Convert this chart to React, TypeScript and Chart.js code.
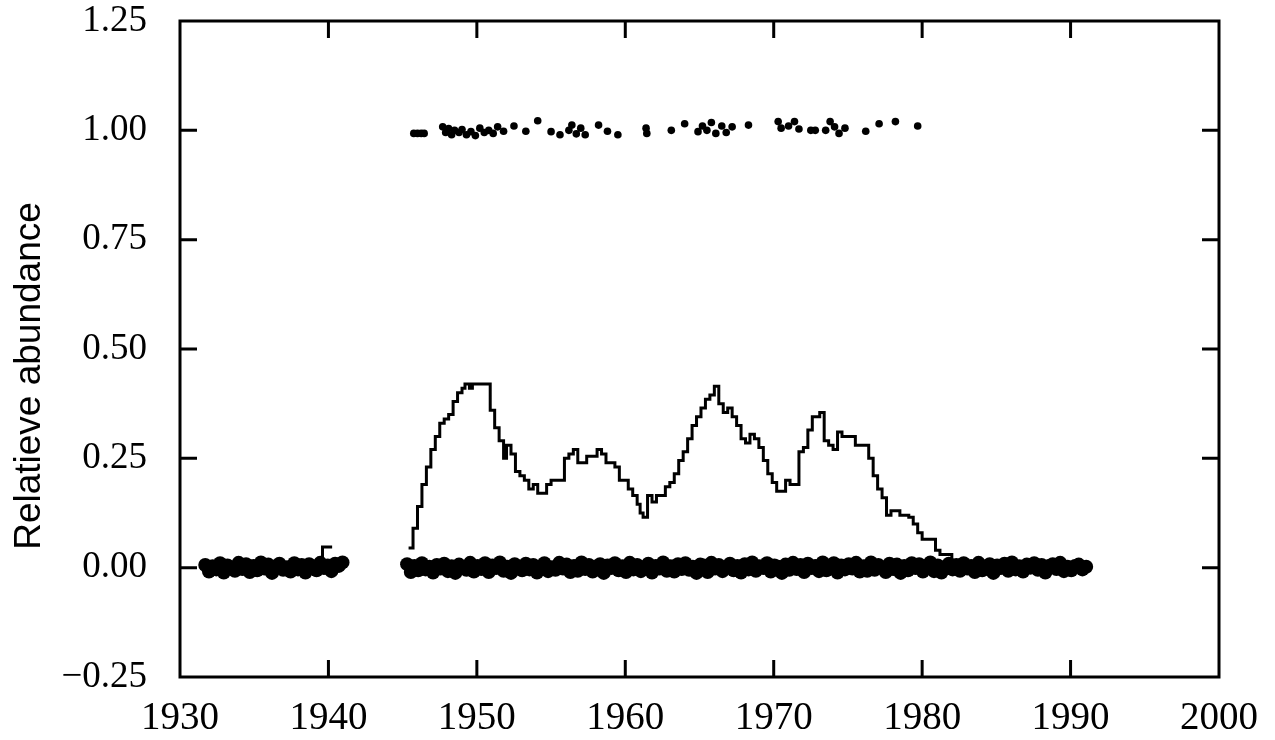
import React, { useEffect, useRef } from "react";
import { Chart, registerables } from "chart.js";

Chart.register(...registerables);

// ---------- data ----------
const xMin = 1930;
const xMax = 2000;
const xStep = 10;
const yMin = -0.25;
const yMax = 1.25;
const yStep = 0.25;
const yTitle = "Relatieve abundance";

// stepped abundance curve (null = gap)
const mainYears = [
  1939.55, 1939.6, 1940.25, 1940.3,
  1945.4, 1945.7, 1946.0, 1946.3, 1946.6, 1946.9, 1947.2, 1947.5, 1947.8, 1948.1,
  1948.4, 1948.7, 1949.0, 1949.2, 1949.5, 1949.7, 1950.0, 1950.3, 1950.6, 1950.9,
  1951.2, 1951.5, 1951.8, 1952.0, 1952.3, 1952.6, 1952.9, 1953.2, 1953.5, 1953.8,
  1954.1, 1954.4, 1954.7, 1955.0, 1955.3, 1955.6, 1955.9, 1956.2, 1956.5, 1956.8,
  1957.1, 1957.4, 1957.8, 1958.1, 1958.4, 1958.7, 1959.0, 1959.3, 1959.6, 1959.9,
  1960.2, 1960.5, 1960.8, 1961.0, 1961.2, 1961.5, 1961.8, 1962.1, 1962.4, 1962.7,
  1963.0, 1963.3, 1963.6, 1963.9, 1964.2, 1964.5, 1964.8, 1965.1, 1965.4, 1965.7,
  1966.0, 1966.3, 1966.6, 1966.9, 1967.2, 1967.5, 1967.8, 1968.1, 1968.4, 1968.7,
  1969.0, 1969.3, 1969.6, 1969.9, 1970.2, 1970.5, 1970.8, 1971.1, 1971.4, 1971.7,
  1972.0, 1972.3, 1972.6, 1972.9, 1973.1, 1973.4, 1973.7, 1974.0, 1974.3, 1974.6,
  1974.9, 1975.2, 1975.5, 1975.8, 1976.1, 1976.4, 1976.7, 1977.0, 1977.3, 1977.6,
  1977.9, 1978.2, 1978.5, 1978.8, 1979.1, 1979.4, 1979.7, 1980.0, 1980.3, 1980.6,
  1980.9, 1981.2, 1981.5, 1981.8, 1982.0,
];
const mainValues = [
  0.02, 0.047, 0.047, null,
  0.045, 0.09, 0.14, 0.19, 0.23, 0.27, 0.30, 0.33, 0.34, 0.35,
  0.38, 0.40, 0.41, 0.42, 0.41, 0.42, 0.42, 0.42, 0.42, 0.36,
  0.32, 0.29, 0.25, 0.28, 0.26, 0.22, 0.21, 0.20, 0.18, 0.19,
  0.17, 0.17, 0.19, 0.20, 0.20, 0.20, 0.25, 0.26, 0.27, 0.24,
  0.24, 0.255, 0.255, 0.27, 0.26, 0.24, 0.24, 0.23, 0.20, 0.20,
  0.18, 0.165, 0.145, 0.125, 0.115, 0.165, 0.15, 0.165, 0.165, 0.185,
  0.195, 0.215, 0.245, 0.265, 0.295, 0.325, 0.345, 0.365, 0.385, 0.395,
  0.415, 0.375, 0.355, 0.365, 0.345, 0.325, 0.295, 0.285, 0.305, 0.295,
  0.275, 0.245, 0.215, 0.195, 0.175, 0.175, 0.20, 0.19, 0.19, 0.265,
  0.275, 0.315, 0.345, 0.345, 0.355, 0.29, 0.28, 0.27, 0.31, 0.30,
  0.30, 0.30, 0.28, 0.28, 0.28, 0.25, 0.21, 0.18, 0.16, 0.12,
  0.13, 0.13, 0.12, 0.12, 0.115, 0.10, 0.08, 0.065, 0.065, 0.065,
  0.04, 0.03, 0.03, 0.03, 0.01,
];

// dots near 1.00
const topYears = [
  1945.75, 1946.0, 1946.25, 1946.45,
  1947.7, 1947.9, 1948.1, 1948.3, 1948.5, 1948.8, 1949.0, 1949.3, 1949.6, 1949.9,
  1950.2, 1950.5, 1950.8, 1951.1, 1951.4, 1951.8, 1952.5, 1953.3, 1954.1, 1955.0,
  1955.6, 1956.2, 1956.4, 1956.7, 1957.0, 1957.3, 1958.2, 1958.8, 1959.5, 1961.4,
  1961.45, 1963.1, 1964.0, 1964.9, 1965.2, 1965.5, 1965.8, 1966.1, 1966.5, 1966.8,
  1967.2, 1968.3, 1970.3, 1970.5, 1971.0, 1971.4, 1971.7, 1972.5, 1972.8, 1973.5,
  1973.8, 1974.1, 1974.4, 1974.8, 1976.2, 1977.1, 1978.2, 1979.7,
];
const topValues = [
  0.993, 0.993, 0.993, 0.993,
  1.008, 0.995, 1.004, 0.99, 1.0, 0.995, 1.002, 0.99, 0.997, 0.988,
  1.005, 0.995, 1.0, 0.993, 1.008, 0.998, 1.01, 0.998, 1.022, 0.997,
  0.99, 1.0, 1.012, 0.992, 1.005, 0.99, 1.012, 0.998, 0.99, 1.005,
  0.993, 1.0, 1.015, 0.997, 1.01, 1.0, 1.018, 0.993, 1.01, 0.995,
  1.008, 1.012, 1.02, 1.005, 1.01, 1.02, 1.003, 1.0, 1.0, 1.0,
  1.02, 1.008, 0.993, 1.005, 0.998, 1.015, 1.02, 1.01,
];

// dense dots near 0.00, sampled every quarter year
const bandStep = 0.25;
const band1Start = 1931.7;
const band1Values = [
  0.006, -0.009, 0.003, -0.004, 0.010, -0.011, 0.005, 0.000, -0.007, 0.011,
  -0.003, 0.008, -0.010, 0.004, -0.006, 0.012, -0.002, 0.007, -0.012, 0.003,
  0.009, -0.005, 0.001, -0.009, 0.010, -0.004, 0.006, -0.011, 0.008, 0.002,
  -0.006, 0.011, -0.001, 0.005, -0.008, 0.009, 0.004, 0.012,
];
const band2Start = 1945.3;
const band2Values = [
  0.008, -0.010, 0.004, -0.006, 0.010, -0.004, 0.002, -0.011, 0.006, -0.002,
  0.009, -0.008, 0.003, -0.012, 0.007, 0.001, -0.005, 0.011, -0.009, 0.004,
  -0.003, 0.010, -0.010, 0.005, -0.001, 0.012, -0.007, 0.002, -0.012, 0.008,
  0.000, -0.006, 0.009, -0.004, 0.006, -0.011, 0.003, 0.010, -0.008, 0.001,
  -0.005, 0.011, -0.002, 0.007, -0.010, 0.004, -0.007, 0.012, -0.003, 0.006,
  -0.009, 0.002, 0.008, -0.012, 0.005, -0.001, 0.010, -0.006, 0.003, -0.010,
  0.011, -0.004, 0.006, -0.008, 0.001, 0.009, -0.011, 0.004, -0.002, 0.012,
  -0.007, 0.003, -0.009, 0.008, -0.003, 0.010, -0.005, 0.002, -0.012, 0.007,
  0.005, -0.010, 0.011, -0.002, 0.006, -0.008, 0.000, 0.009, -0.006, 0.004,
  -0.011, 0.008, -0.004, 0.012, -0.007, 0.003, -0.001, 0.010, -0.009, 0.005,
  0.002, -0.012, 0.007, -0.005, 0.011, -0.003, 0.006, -0.010, 0.009, -0.001,
  0.004, -0.008, 0.012, -0.006, 0.001, 0.010, -0.011, 0.005, -0.004, 0.008,
  -0.002, 0.011, -0.009, 0.003, -0.007, 0.012, -0.005, 0.006, 0.000, -0.010,
  0.009, -0.003, 0.007, -0.012, 0.004, -0.006, 0.010, -0.001, 0.008, -0.009,
  0.003, 0.012, -0.008, 0.005, -0.011, 0.001, 0.009, -0.004, 0.006, -0.007,
  0.010, -0.002, 0.004, -0.010, 0.011, -0.006, 0.002, 0.008, -0.012, 0.005,
  -0.001, 0.009, -0.007, 0.012, -0.004, 0.003, -0.009, 0.007, 0.000, 0.010,
  -0.005, 0.006, -0.011, 0.004, 0.008, -0.003, 0.011, -0.008, 0.002, -0.006,
  0.004, 0.007, -0.004, 0.002,
];

// ---------- helpers ----------
const toXY = (xs: number[], ys: (number | null)[]) =>
  xs.map((x, i) => ({ x, y: ys[i] }));
const bandXY = (start: number, vals: number[]) =>
  vals.map((v, i) => ({ x: +(start + i * bandStep).toFixed(2), y: v }));

const serif = "'Liberation Serif', 'Times New Roman', Times, serif";
const sans = "'Liberation Sans', Arial, Helvetica, sans-serif";

const framePlugin = {
  id: "frameTicks",
  afterDatasetsDraw(chart: any) {
    const { ctx, chartArea } = chart;
    const { left, right, top, bottom } = chartArea;
    const xs = chart.scales.x;
    const ys = chart.scales.y;
    const L = 17;
    ctx.save();
    ctx.strokeStyle = "#000";
    ctx.lineWidth = 3;
    ctx.lineCap = "butt";
    ctx.strokeRect(left, top, right - left, bottom - top);
    ctx.beginPath();
    xs.ticks.forEach((t: any) => {
      const px = xs.getPixelForValue(t.value);
      if (px > left + 2 && px < right - 2) {
        ctx.moveTo(px, bottom);
        ctx.lineTo(px, bottom - L);
        ctx.moveTo(px, top);
        ctx.lineTo(px, top + L);
      }
    });
    ys.ticks.forEach((t: any) => {
      const py = ys.getPixelForValue(t.value);
      if (py > top + 2 && py < bottom - 2) {
        ctx.moveTo(left, py);
        ctx.lineTo(left + L, py);
        ctx.moveTo(right, py);
        ctx.lineTo(right - L, py);
      }
    });
    ctx.stroke();
    // y-axis title
    ctx.fillStyle = "#000";
    ctx.font = `37px ${sans}`;
    ctx.textAlign = "center";
    ctx.textBaseline = "middle";
    ctx.translate(30, 376);
    ctx.rotate(-Math.PI / 2);
    ctx.fillText(yTitle, 0, 0);
    ctx.restore();
  },
};

export default function App() {
  const canvasRef = useRef<HTMLCanvasElement | null>(null);

  useEffect(() => {
    document.body.style.margin = "0";
    document.body.style.background = "#fff";
    const canvas = canvasRef.current;
    if (!canvas) return;
    const chart = new Chart(canvas, {
      type: "scatter",
      data: {
        datasets: [
          {
            label: "band1",
            data: bandXY(band1Start, band1Values),
            pointRadius: 7,
            pointStyle: "circle",
            backgroundColor: "#000",
            borderWidth: 0,
            showLine: false,
          },
          {
            label: "band2",
            data: bandXY(band2Start, band2Values),
            pointRadius: 7,
            pointStyle: "circle",
            backgroundColor: "#000",
            borderWidth: 0,
            showLine: false,
          },
          {
            label: "top",
            data: toXY(topYears, topValues),
            pointRadius: 3.8,
            pointStyle: "circle",
            backgroundColor: "#000",
            borderWidth: 0,
            showLine: false,
          },
          {
            label: "main",
            data: toXY(mainYears, mainValues),
            showLine: true,
            stepped: true,
            spanGaps: false,
            borderColor: "#000",
            borderWidth: 3,
            pointRadius: 0,
            fill: false,
          } as any,
        ],
      },
      options: {
        animation: false,
        responsive: true,
        maintainAspectRatio: false,
        layout: { padding: { top: 21, right: 56, left: 0, bottom: 0 } },
        plugins: {
          legend: { display: false },
          tooltip: { enabled: false },
        },
        scales: {
          x: {
            type: "linear",
            min: xMin,
            max: xMax,
            grid: { display: false, drawTicks: false },
            border: { display: false },
            afterFit: (s: any) => {
              s.height = 63;
              s.paddingLeft = 0;
              s.paddingRight = 0;
            },
            ticks: {
              stepSize: xStep,
              padding: 18,
              color: "#000",
              font: { family: serif, size: 39 },
              callback: (v: any) => String(v),
            },
          },
          y: {
            type: "linear",
            min: yMin,
            max: yMax,
            grid: { display: false, drawTicks: false },
            border: { display: false },
            afterFit: (s: any) => {
              s.width = 180;
              s.paddingTop = 0;
              s.paddingBottom = 0;
            },
            ticks: {
              stepSize: yStep,
              padding: 33,
              color: "#000",
              font: { family: serif, size: 37 },
              callback: (v: any) => {
                const n = Number(v);
                return n < 0 ? "\u2212" + Math.abs(n).toFixed(2) : n.toFixed(2);
              },
            },
          },
        },
      },
      plugins: [framePlugin],
    });
    return () => chart.destroy();
  }, []);

  return (
    <div style={{ width: 1275, height: 740, position: "relative", background: "#fff" }}>
      <canvas ref={canvasRef} />
    </div>
  );
}
